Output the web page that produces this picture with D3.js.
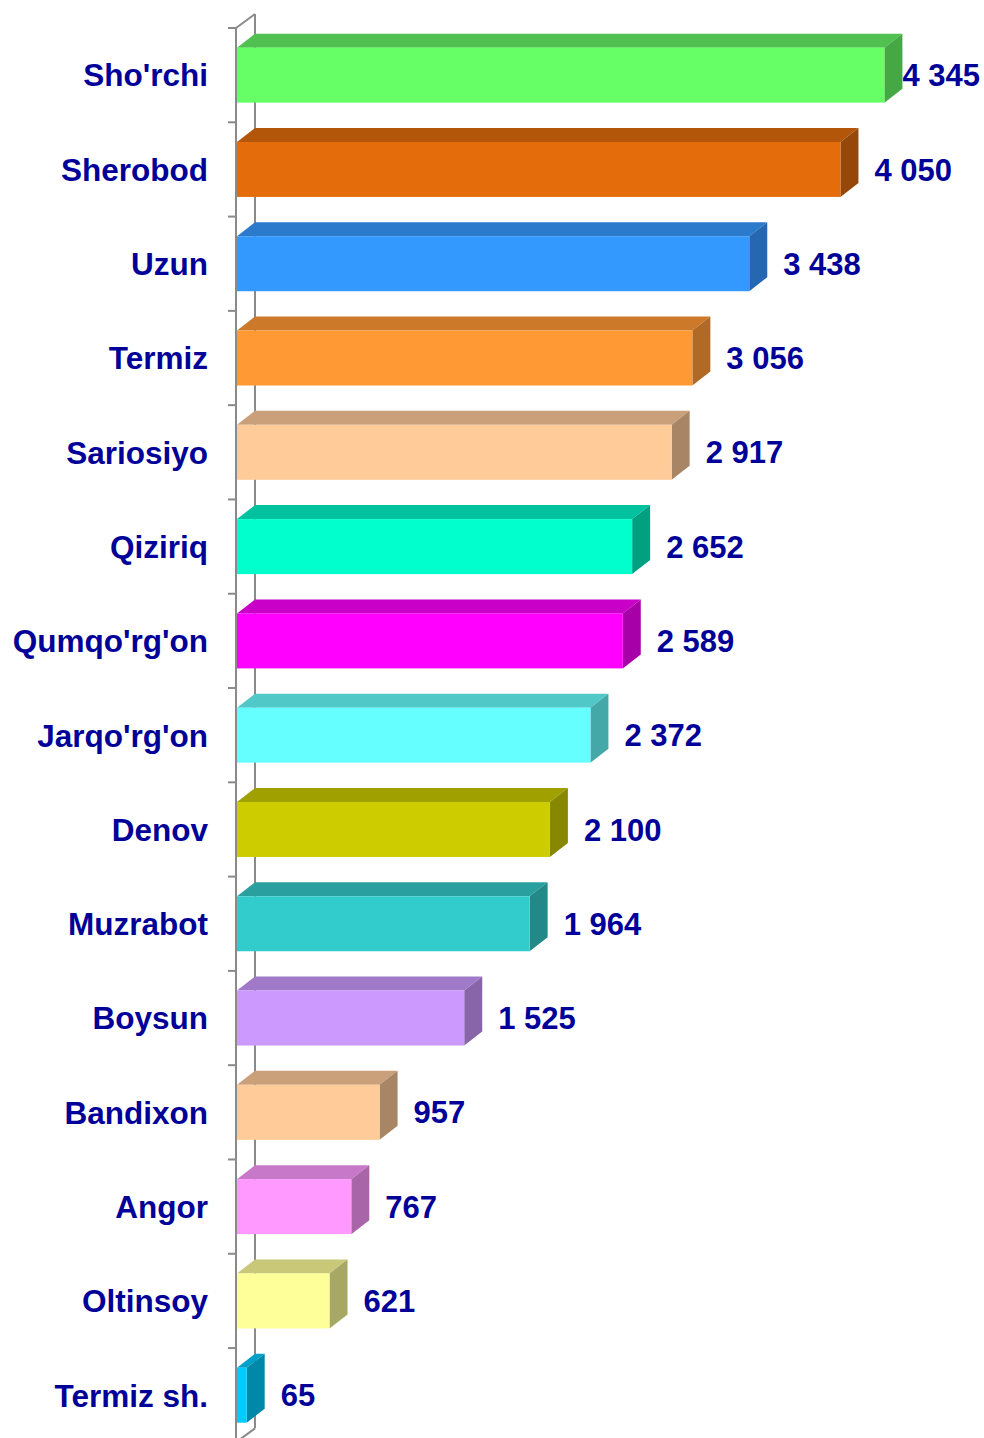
<!DOCTYPE html>
<html>
<head>
<meta charset="utf-8">
<script src="https://cdn.jsdelivr.net/npm/d3@7"></script>
<style>
  body { margin: 0; background: #fff; }
  text { font-family: "Liberation Sans", Arial, sans-serif; font-weight: bold; fill: #000099; }
</style>
</head>
<body>
<svg id="chart" width="984" height="1438"></svg>
<script>
// tumanlar va qiymatlar
const districts = ["Sho'rchi", "Sherobod", "Uzun", "Termiz", "Sariosiyo", "Qiziriq", "Qumqo'rg'on",
  "Jarqo'rg'on", "Denov", "Muzrabot", "Boysun", "Bandixon", "Angor", "Oltinsoy", "Termiz sh."];
const values = [4345, 4050, 3438, 3056, 2917, 2652, 2589, 2372, 2100, 1964, 1525, 957, 767, 621, 65];

// front / top / side colours of each bar
const frontColors = ["#66ff66", "#e46c0a", "#3399ff", "#ff9933", "#ffcc99", "#00ffcc", "#ff00ff",
  "#66ffff", "#cccc00", "#33cccc", "#cc99ff", "#ffcc99", "#ff99ff", "#ffff99", "#00ccff"];
const topColors = ["#50c150", "#b3560a", "#2b7acc", "#cc7a29", "#c9a07a", "#00c29e", "#c800c8",
  "#50c8c8", "#a0a000", "#2a9f9f", "#a07ac8", "#c9a07a", "#c878c8", "#c8c878", "#00a0c8"];
const sideColors = ["#45a845", "#96480a", "#2567b0", "#b06a25", "#a88565", "#00a080", "#a800a8",
  "#44a8a8", "#888800", "#228888", "#8865a8", "#a88565", "#a865a8", "#a8a865", "#0088a8"];

const W = 984, H = 1438;
const dx = 18, dy = 14;       // 3d depth
const barH = 55;

const svg = d3.select('#chart');

const x = d3.scaleLinear()
  .domain([0, 5000])
  .range([237, 982]);

const y = d3.scaleBand()
  .domain(districts)
  .range([28, 28 + districts.length * 94.29])
  .padding(0);

const step = y.step();
const x0 = x(0);
const yTop = y.range()[0], yBot = y.range()[1];

// devor (back wall edge), behind the bars
const axisG = svg.append('g');
axisG.append('line')
  .attr('x1', x0 + dx).attr('y1', yTop - dy)
  .attr('x2', x0 + dx).attr('y2', yBot - dy)
  .attr('stroke', '#8a8a8a').attr('stroke-width', 2);
axisG.append('line')
  .attr('x1', x0 - 1).attr('y1', yTop)
  .attr('x2', x0 + dx).attr('y2', yTop - dy)
  .attr('stroke', '#8a8a8a').attr('stroke-width', 2);
axisG.append('line')
  .attr('x1', x0 - 1).attr('y1', yBot)
  .attr('x2', x0 + dx).attr('y2', yBot - dy)
  .attr('stroke', '#8a8a8a').attr('stroke-width', 2);

// bars
const bars = svg.append('g')
  .selectAll('g.bar')
  .data(districts)
  .enter()
  .append('g')
  .classed('bar', true);

const fy = d => y(d) + (step - barH) / 2;
const x1 = (d, i) => x(values[i]);

bars.append('polygon')
  .attr('points', (d, i) => {
    const t = fy(d), r = x1(d, i);
    return `${x0},${t} ${x0 + dx},${t - dy} ${r + dx},${t - dy} ${r},${t}`;
  })
  .attr('fill', (d, i) => topColors[i]);

bars.append('polygon')
  .attr('points', (d, i) => {
    const t = fy(d), r = x1(d, i);
    return `${r},${t} ${r + dx},${t - dy} ${r + dx},${t + barH - dy} ${r},${t + barH}`;
  })
  .attr('fill', (d, i) => sideColors[i]);

bars.append('rect')
  .attr('x', x0)
  .attr('y', d => fy(d))
  .attr('width', (d, i) => x1(d, i) - x0)
  .attr('height', barH)
  .attr('fill', (d, i) => frontColors[i]);

// front axis line + ticks
svg.append('line')
  .attr('x1', x0 - 1).attr('y1', yTop)
  .attr('x2', x0 - 1).attr('y2', H)
  .attr('stroke', '#8a8a8a').attr('stroke-width', 2);

svg.append('g')
  .selectAll('line.tick')
  .data(d3.range(districts.length + 1))
  .enter()
  .append('line')
  .classed('tick', true)
  .attr('x1', x0 - 9).attr('x2', x0 - 1)
  .attr('y1', k => yTop + k * step)
  .attr('y2', k => yTop + k * step)
  .attr('stroke', '#8a8a8a').attr('stroke-width', 2);

// category labels
svg.append('g')
  .selectAll('text')
  .data(districts)
  .enter()
  .append('text')
  .attr('x', 208)
  .attr('y', d => fy(d) + barH / 2)
  .attr('dy', '0.36em')
  .attr('text-anchor', 'end')
  .style('font-size', '31.5px')
  .text(d => d);

// value labels
const fmt = v => d3.format(',')(v).replace(/,/g, ' ');
svg.append('g')
  .selectAll('text')
  .data(districts)
  .enter()
  .append('text')
  .attr('y', d => fy(d) + barH / 2)
  .attr('dy', '0.36em')
  .style('font-size', '31px')
  .text((d, i) => fmt(values[i]))
  .attr('x', function (d, i) {
    const tw = this.getComputedTextLength();
    return Math.min(x1(d, i) + dx + 16, W - 4 - tw);
  });
</script>
</body>
</html>
